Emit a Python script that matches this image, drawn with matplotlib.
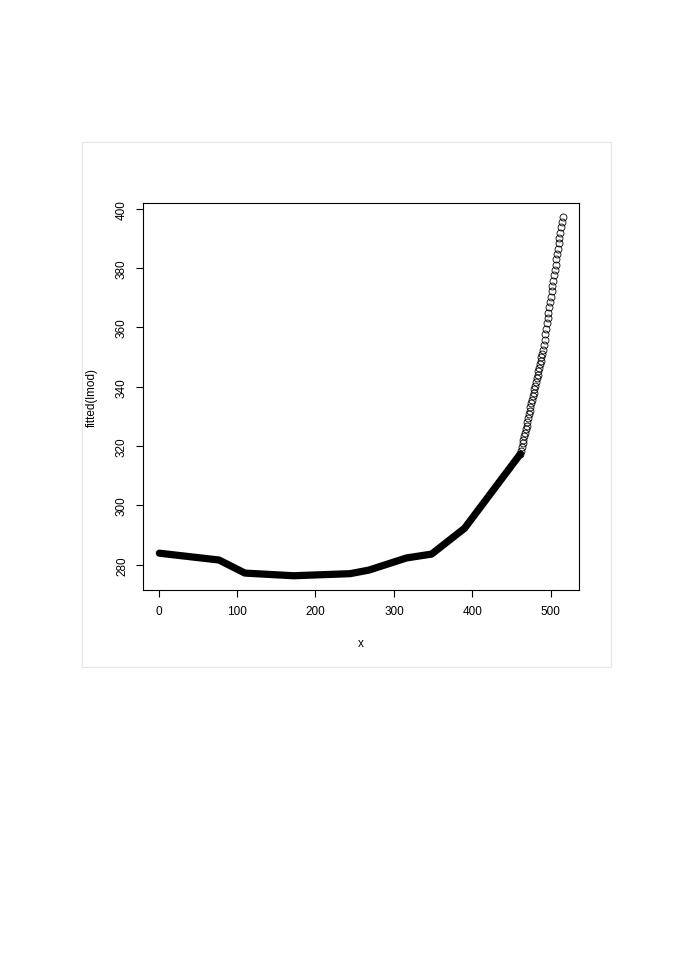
import numpy as np
import matplotlib.pyplot as plt
from matplotlib.patches import Rectangle

plt.rcParams['font.family'] = ['Liberation Sans', 'DejaVu Sans']

# dense part of the fit (drawn as a thick band of overlapping points)
knot_x = [1, 77, 110, 172, 244, 268, 316, 348, 390, 461]
knot_y = [283.9, 281.6, 277.2, 276.3, 277.0, 278.2, 282.3, 283.6, 292.3, 317.3]

# sparse tail, one circle per x
tail_x = [461, 462, 463, 464, 465, 466, 467, 468, 469, 470,
          471, 472, 473, 474, 475, 476, 477, 478, 479, 480,
          481, 482, 483, 484, 485, 486, 487, 488, 489, 490,
          491, 492, 493, 494, 495, 496, 497, 498, 499, 500,
          501, 502, 503, 504, 505, 506, 507, 508, 509, 510,
          511, 512, 513, 514, 515]
tail_y = [317.3, 318.5, 319.7, 320.9, 322.1, 323.3, 324.5, 325.7, 326.9, 328.2,
          329.4, 330.7, 331.9, 333.1, 334.4, 335.6, 336.8, 338.0, 339.2, 340.4,
          341.6, 342.8, 344.0, 345.2, 346.4, 347.6, 348.8, 350.0, 351.1, 352.3,
          354.1, 355.9, 357.7, 359.5, 361.3, 363.1, 364.9, 366.7, 368.5, 370.3,
          372.1, 373.9, 375.7, 377.5, 379.3, 381.1, 382.9, 384.7, 386.5, 388.3,
          390.1, 391.9, 393.7, 395.5, 397.2]

xticks = [0, 100, 200, 300, 400, 500]
yticks = [280, 300, 320, 340, 360, 380, 400]

W, H = 692, 979
fig = plt.figure(figsize=(W/100, H/100), dpi=100)

# light grey page frame around the plot
fig.add_artist(Rectangle((81.7/W, 1 - 667.7/H), (610.7-81.7)/W, (667.7-143.3)/H,
                         transform=fig.transFigure, fill=False, ec='#e6e6e6', lw=0.8))

ax = fig.add_axes([143.3/W, 1 - 591/H, (578.7-143.3)/W, (591-204.3)/H])

ax.plot(knot_x, knot_y, color='black', lw=5.2, solid_capstyle='round',
        solid_joinstyle='round')
ax.plot(tail_x, tail_y, 'o', mfc='none', mec='black', ms=5.0, mew=0.6)

ax.set_xlim(-19.5, 535.5)
ax.set_ylim(271.5, 401.8)
ax.set_xticks(xticks)
ax.set_yticks(yticks)
ax.set_yticklabels([str(v) for v in yticks], rotation=90, va='center')
ax.tick_params(direction='out', length=5, width=0.8, labelsize=8.5, pad=6)
for s in ax.spines.values():
    s.set_linewidth(0.8)

ax.set_xlabel('x', fontsize=8.5)
ax.xaxis.label.set_va('center')
ax.xaxis.set_label_coords(0.5, -0.137)
ax.set_ylabel('fitted(lmod)', fontsize=8.5)
ax.yaxis.label.set_va('center')
ax.yaxis.set_label_coords(-0.1185, 0.5)

fig.savefig('out.png', dpi=100)
